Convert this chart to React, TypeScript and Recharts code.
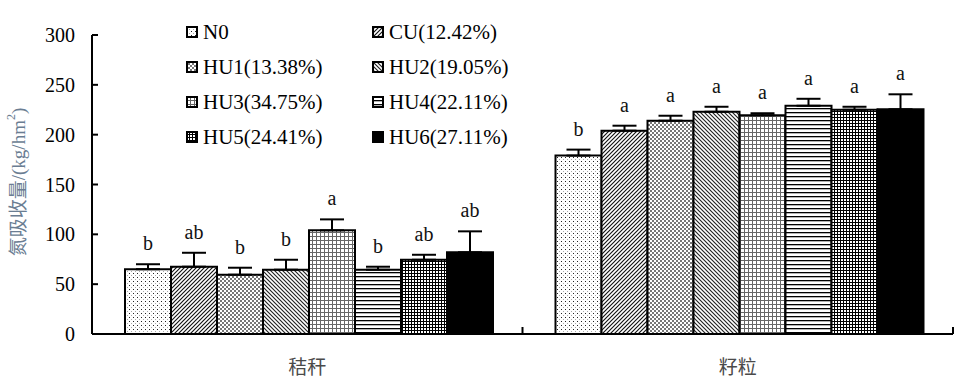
import React from 'react';
import { BarChart, Bar, XAxis, YAxis, ErrorBar, LabelList } from 'recharts';

const categories = ['秸秆', '籽粒'];
const seriesKeys = ['N0', 'CU', 'HU1', 'HU2', 'HU3', 'HU4', 'HU5', 'HU6'];
const legendLabels = ['N0', 'CU(12.42%)', 'HU1(13.38%)', 'HU2(19.05%)', 'HU3(34.75%)', 'HU4(22.11%)', 'HU5(24.41%)', 'HU6(27.11%)'];

const strawMeans = [65, 67.5, 59.5, 64.5, 104, 64.5, 74.5, 82];
const strawErrors = [5, 14, 7, 10, 11, 3, 5, 21];
const strawLetters = ['b', 'ab', 'b', 'b', 'a', 'b', 'ab', 'ab'];

const grainMeans = [179, 204, 214, 223, 219.5, 229, 225, 225.5];
const grainErrors = [6, 5, 5, 5, 2, 7, 3, 15];
const grainLetters = ['b', 'a', 'a', 'a', 'a', 'a', 'a', 'a'];

const yTicks = [0, 50, 100, 150, 200, 250, 300];

const means = [strawMeans, grainMeans];
const errors = [strawErrors, grainErrors];
const letters = [strawLetters, grainLetters];

const CHART_W = 969;
const CHART_H = 383;
const MARGIN = { top: 35, right: 16, bottom: 0, left: 0 };
const Y_AXIS_W = 92;
const X_AXIS_H = 49;
const BAND = (CHART_W - MARGIN.right - Y_AXIS_W) / categories.length;

const FONT = "'Liberation Serif', 'Times New Roman', 'Noto Sans CJK SC', serif";

const data = categories.map((cat, ci) => {
  const row: any = { category: cat };
  seriesKeys.forEach((k, si) => {
    row[k] = means[ci][si];
    row[k + '_err'] = [0, errors[ci][si]];
  });
  return row;
});

// fill patterns, one per treatment (last one is solid black)
const renderPatterns = (prefix: string) => (
  <defs>
    <pattern id={`${prefix}N0`} width="4" height="4" patternUnits="userSpaceOnUse">
      <rect width="4" height="4" fill="#fff" />
      <rect x="1" y="1" width="1" height="1" fill="#222" />
      <rect x="3" y="3" width="1" height="1" fill="#aaa" />
    </pattern>
    <pattern id={`${prefix}CU`} width="4" height="4" patternUnits="userSpaceOnUse">
      <rect width="4" height="4" fill="#fff" />
      <path d="M-1,1 l2,-2 M0,4 l4,-4 M3,5 l2,-2" stroke="#111" strokeWidth="1.15" />
    </pattern>
    <pattern id={`${prefix}HU1`} width="4" height="4" patternUnits="userSpaceOnUse">
      <rect width="4" height="4" fill="#fff" />
      <rect x="0" y="0" width="2" height="2" fill="#777" />
      <rect x="2" y="2" width="2" height="2" fill="#777" />
    </pattern>
    <pattern id={`${prefix}HU2`} width="4" height="4" patternUnits="userSpaceOnUse">
      <rect width="4" height="4" fill="#fff" />
      <path d="M0,0 l4,4 M-1,3 l2,2 M3,-1 l2,2" stroke="#222" strokeWidth="1.15" />
    </pattern>
    <pattern id={`${prefix}HU3`} width="4" height="4" patternUnits="userSpaceOnUse">
      <rect width="4" height="4" fill="#fff" />
      <path d="M0.5,0 v4 M0,0.5 h4" stroke="#666" strokeWidth="1" />
    </pattern>
    <pattern id={`${prefix}HU4`} width="4" height="4" patternUnits="userSpaceOnUse">
      <rect width="4" height="4" fill="#fff" />
      <rect x="0" y="0" width="4" height="1.3" fill="#000" />
    </pattern>
    <pattern id={`${prefix}HU5`} width="3" height="3" patternUnits="userSpaceOnUse">
      <rect width="3" height="3" fill="#fff" />
      <path d="M0.5,0 v3 M0,0.5 h3" stroke="#000" strokeWidth="1" />
    </pattern>
  </defs>
);

const fillFor = (prefix: string, key: string) => (key === 'HU6' ? '#000' : `url(#${prefix}${key})`);

const YTick = (props: any) => {
  const { x, y, payload } = props;
  return (
    <g>
      <line x1={x + 17} x2={x + 23} y1={y} y2={y} stroke="#000" strokeWidth={2} />
      <text x={x} y={y} textAnchor="end" dominantBaseline="central" fontFamily={FONT} fontSize={20} fill="#000">
        {payload.value}
      </text>
    </g>
  );
};

const XTick = (props: any) => {
  const { x, y, payload } = props;
  const bx = x + BAND / 2;
  return (
    <g>
      <line x1={bx} x2={bx} y1={y} y2={y - 7} stroke="#000" strokeWidth={2} />
      <text x={x} y={y + 33} textAnchor="middle" dominantBaseline="central" fontFamily={FONT} fontSize={19} fill="#4a4a4a">
        {payload.value}
      </text>
    </g>
  );
};

const YLabel = () => (
  <text
    x={18}
    y={182}
    transform="rotate(-90 18 182)"
    textAnchor="middle"
    dominantBaseline="central"
    fontFamily={FONT}
    fontSize={19}
    fill="#6a7d92"
  >
    氮吸收量/(kg/hm<tspan baselineShift="super" fontSize={12}>2</tspan>)
  </text>
);

const letterRenderer = (si: number) => (p: any) => {
  const x = Number(p.x), y = Number(p.y), w = Number(p.width), h = Number(p.height), v = Number(p.value);
  const ci = p.index;
  const errPx = (errors[ci][si] * h) / v;
  return (
    <text x={x + w / 2} y={y - errPx - 21} textAnchor="middle" dominantBaseline="central" fontFamily={FONT} fontSize={20} fill="#111">
      {letters[ci][si]}
    </text>
  );
};

const LegendBox = () => (
  <div style={{ position: 'absolute', left: 0, top: 0, width: CHART_W, height: 0, fontFamily: FONT, fontSize: 21 }}>
    {legendLabels.map((lab, i) => {
      const row = Math.floor(i / 2);
      const col = i % 2;
      const key = seriesKeys[i];
      return (
        <div
          key={key}
          style={{ position: 'absolute', left: col === 0 ? 186 : 372, top: 32 + row * 35 - 12, height: 24, display: 'flex', alignItems: 'center', whiteSpace: 'nowrap' }}
        >
          <svg width={12} height={12} style={{ marginRight: 5 }}>
            {renderPatterns(`lg${i}-`)}
            <rect x={1} y={1} width={10} height={10} fill={fillFor(`lg${i}-`, key)} stroke="#000" strokeWidth={2} />
          </svg>
          <span style={{ color: '#000' }}>{lab}</span>
        </div>
      );
    })}
  </div>
);

export default function App() {
  return (
    <div style={{ position: 'absolute', left: 0, top: 0, width: CHART_W, height: CHART_H, background: '#fff' }}>
      <BarChart width={CHART_W} height={CHART_H} data={data} margin={MARGIN} barCategoryGap={33} barGap={0}>
        {renderPatterns('p-')}
        <XAxis
          dataKey="category"
          height={X_AXIS_H}
          axisLine={{ stroke: '#000', strokeWidth: 2 }}
          tickLine={false}
          tickSize={0}
          tickMargin={0}
          tick={<XTick />}
          interval={0}
        />
        <YAxis
          width={Y_AXIS_W}
          domain={[0, 300]}
          ticks={yTicks}
          interval={0}
          axisLine={{ stroke: '#000', strokeWidth: 2 }}
          tickLine={false}
          tickSize={0}
          tickMargin={17}
          tick={<YTick />}
          label={<YLabel />}
        />
        {seriesKeys.map((k, si) => (
          <Bar key={k} dataKey={k} fill={fillFor('p-', k)} stroke="#000" strokeWidth={2} isAnimationActive={false}>
            <ErrorBar dataKey={k + '_err'} width={12} stroke="#000" strokeWidth={2} direction="y" isAnimationActive={false} />
            <LabelList dataKey={k} content={letterRenderer(si)} />
          </Bar>
        ))}
      </BarChart>
      <LegendBox />
    </div>
  );
}
